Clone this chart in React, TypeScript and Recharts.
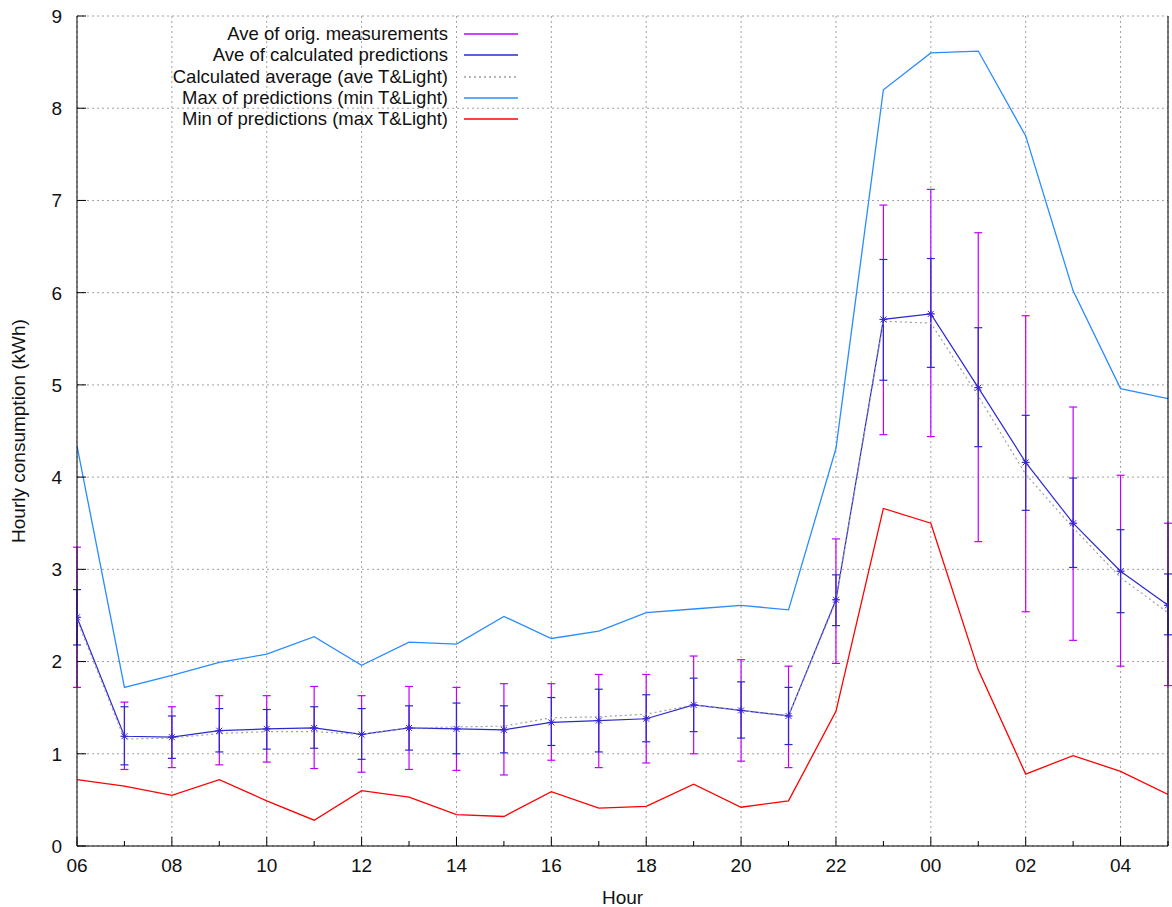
import React from "react";
import {
  ComposedChart,
  Line,
  XAxis,
  YAxis,
  CartesianGrid,
  ErrorBar,
  Legend,
  Label,
} from "recharts";

const FONT = "'Liberation Sans', Arial, sans-serif";

// hour of day, 06 -> 05 next morning
const hours = [
  "06", "07", "08", "09", "10", "11", "12", "13", "14", "15", "16", "17",
  "18", "19", "20", "21", "22", "23", "00", "01", "02", "03", "04", "05",
];

// Ave of orig. measurements (centre + error bar ends)
const origAve = [2.48, 1.19, 1.18, 1.25, 1.27, 1.28, 1.21, 1.28, 1.27, 1.26, 1.34, 1.36, 1.38, 1.53, 1.47, 1.41, 2.67, 5.71, 5.77, 4.97, 4.16, 3.5, 2.98, 2.61];
const origLow = [1.72, 0.83, 0.85, 0.88, 0.91, 0.84, 0.8, 0.83, 0.82, 0.77, 0.93, 0.85, 0.9, 1.0, 0.92, 0.85, 1.98, 4.46, 4.44, 3.3, 2.54, 2.23, 1.95, 1.74];
const origHigh = [3.24, 1.56, 1.51, 1.63, 1.63, 1.73, 1.63, 1.73, 1.72, 1.76, 1.76, 1.86, 1.86, 2.06, 2.02, 1.95, 3.33, 6.95, 7.12, 6.65, 5.75, 4.76, 4.02, 3.5];

// Ave of calculated predictions (centre + error bar ends)
const calcAve = [2.48, 1.19, 1.18, 1.25, 1.27, 1.28, 1.21, 1.28, 1.27, 1.26, 1.34, 1.36, 1.38, 1.53, 1.47, 1.41, 2.67, 5.71, 5.77, 4.97, 4.16, 3.5, 2.98, 2.61];
const calcLow = [2.18, 0.88, 0.95, 1.02, 1.05, 1.06, 0.94, 1.04, 1.0, 1.01, 1.09, 1.02, 1.13, 1.24, 1.17, 1.1, 2.39, 5.05, 5.19, 4.33, 3.64, 3.02, 2.53, 2.29];
const calcHigh = [2.78, 1.51, 1.41, 1.49, 1.48, 1.51, 1.49, 1.52, 1.55, 1.52, 1.61, 1.7, 1.64, 1.82, 1.78, 1.72, 2.94, 6.36, 6.37, 5.62, 4.67, 3.99, 3.43, 2.95];

// Calculated average (ave T&Light)
const calcAvg = [2.45, 1.16, 1.17, 1.22, 1.24, 1.24, 1.21, 1.28, 1.29, 1.3, 1.39, 1.4, 1.43, 1.53, 1.47, 1.41, 2.65, 5.69, 5.67, 4.88, 4.03, 3.45, 2.91, 2.53];

// Max of predictions (min T&Light)
const maxPred = [4.34, 1.72, 1.85, 1.99, 2.08, 2.27, 1.96, 2.21, 2.19, 2.49, 2.25, 2.33, 2.53, 2.57, 2.61, 2.56, 4.31, 8.2, 8.6, 8.62, 7.7, 6.02, 4.96, 4.85];

// Min of predictions (max T&Light)
const minPred = [0.72, 0.65, 0.55, 0.72, 0.49, 0.28, 0.6, 0.53, 0.34, 0.32, 0.59, 0.41, 0.43, 0.67, 0.42, 0.49, 1.46, 3.66, 3.5, 1.91, 0.78, 0.98, 0.81, 0.56];

const yTicks = [0, 1, 2, 3, 4, 5, 6, 7, 8, 9];
const xTicks = hours.map((_, i) => i);
const majorX = xTicks.filter((i) => i % 2 === 0);

const data = hours.map((hour, i) => ({
  i,
  hour,
  orig: origAve[i],
  origErr: [origAve[i] - origLow[i], origHigh[i] - origAve[i]],
  calc: calcAve[i],
  calcErr: [calcAve[i] - calcLow[i], calcHigh[i] - calcAve[i]],
  avg: calcAvg[i],
  max: maxPred[i],
  min: minPred[i],
}));

const PURPLE = "#c000ff";
const BLUE = "#2a2ad0";
const GREY = "#a0a0a0";
const SKY = "#2a8cff";
const RED = "#ff0000";

const legendItems = [
  { label: "Ave of orig. measurements", color: PURPLE, dash: undefined },
  { label: "Ave of calculated predictions", color: BLUE, dash: undefined },
  { label: "Calculated average (ave T&Light)", color: GREY, dash: "2 3" },
  { label: "Max of predictions (min T&Light)", color: SKY, dash: undefined },
  { label: "Min of predictions (max T&Light)", color: RED, dash: undefined },
];

const BottomTick = (props: any) => {
  const { x, y, payload } = props;
  const major = payload.value % 2 === 0;
  const base = y - 13;
  return (
    <g>
      <line x1={x} x2={x} y1={base} y2={base - (major ? 9 : 5)} stroke="#000" />
      {major && (
        <text x={x} y={y} dy="0.71em" textAnchor="middle" fontSize={19} fontFamily={FONT} fill="#111">
          {hours[payload.value]}
        </text>
      )}
    </g>
  );
};

const TopTick = (props: any) => {
  const { x, y, payload } = props;
  const major = payload.value % 2 === 0;
  return <line x1={x} x2={x} y1={y} y2={y + (major ? 9 : 5)} stroke="#000" />;
};

const LeftTick = (props: any) => {
  const { x, y, payload } = props;
  const base = x + 15;
  return (
    <g>
      <line x1={base} x2={base + 9} y1={y} y2={y} stroke="#000" />
      <text x={x} y={y} dy="0.36em" textAnchor="end" fontSize={19} fontFamily={FONT} fill="#111">
        {payload.value}
      </text>
    </g>
  );
};

const RightTick = (props: any) => {
  const { x, y } = props;
  return <line x1={x} x2={x - 9} y1={y} y2={y} stroke="#000" />;
};

const StarDot = (props: any) => {
  const { cx, cy } = props;
  if (cx == null || cy == null) return null;
  const r = 4;
  return (
    <g stroke={BLUE} strokeWidth={1}>
      <line x1={cx - r} x2={cx + r} y1={cy} y2={cy} />
      <line x1={cx} x2={cx} y1={cy - r} y2={cy + r} />
      <line x1={cx - 3} x2={cx + 3} y1={cy - 3} y2={cy + 3} />
      <line x1={cx - 3} x2={cx + 3} y1={cy + 3} y2={cy - 3} />
    </g>
  );
};

const PlusDot = (props: any) => {
  const { cx, cy } = props;
  if (cx == null || cy == null) return null;
  return (
    <g stroke={PURPLE} strokeWidth={1}>
      <line x1={cx - 3} x2={cx + 3} y1={cy} y2={cy} />
      <line x1={cx} x2={cx} y1={cy - 3} y2={cy + 3} />
    </g>
  );
};

const renderLegend = () => (
  <div style={{ fontFamily: FONT, fontSize: 18.5, color: "#111" }}>
    {legendItems.map((item) => (
      <div key={item.label} style={{ display: "flex", alignItems: "center", height: 21.2 }}>
        <span style={{ width: 440, textAlign: "right", whiteSpace: "nowrap" }}>{item.label}</span>
        <svg width={56} height={10} style={{ marginLeft: 16 }}>
          <line x1={0} x2={54} y1={5} y2={5} stroke={item.color} strokeWidth={1.5} strokeDasharray={item.dash} />
        </svg>
      </div>
    ))}
  </div>
);

export default function App() {
  return (
    <div style={{ position: "fixed", left: 0, top: 0, width: 1172, height: 907, background: "#fff" }}>
      <ComposedChart
        width={1172}
        height={907}
        data={data}
        margin={{ top: 16, right: 3, bottom: 0, left: 8 }}
      >
        <CartesianGrid stroke={GREY} strokeDasharray="2 3" xAxisId="grid" />
        <Line
          dataKey="orig"
          stroke="none"
          dot={<PlusDot />}
          activeDot={false}
          isAnimationActive={false}
        >
          <ErrorBar dataKey="origErr" width={4} stroke={PURPLE} strokeWidth={1.2} direction="y" />
        </Line>
        <Line
          dataKey="calc"
          stroke={BLUE}
          strokeWidth={1.2}
          dot={<StarDot />}
          activeDot={false}
          isAnimationActive={false}
        >
          <ErrorBar dataKey="calcErr" width={4} stroke={BLUE} strokeWidth={1.2} direction="y" />
        </Line>
        <Line
          dataKey="avg"
          stroke={GREY}
          strokeWidth={1.2}
          strokeDasharray="2 3"
          dot={false}
          activeDot={false}
          isAnimationActive={false}
        />
        <Line dataKey="max" stroke={SKY} strokeWidth={1.3} dot={false} activeDot={false} isAnimationActive={false} />
        <Line dataKey="min" stroke={RED} strokeWidth={1.3} dot={false} activeDot={false} isAnimationActive={false} />
        <XAxis
          dataKey="i"
          type="number"
          domain={[0, 23]}
          ticks={xTicks}
          interval={0}
          allowDataOverflow
          height={61}
          tickSize={0}
          tickMargin={13}
          tickLine={false}
          axisLine={{ stroke: "#000" }}
          tick={<BottomTick />}
        >
          <Label
            content={({ viewBox }: any) => (
              <text
                x={viewBox.x + viewBox.width / 2}
                y={viewBox.y + 58}
                textAnchor="middle"
                fontSize={19}
                fontFamily={FONT}
                fill="#111"
              >
                Hour
              </text>
            )}
          />
        </XAxis>
        <XAxis
          xAxisId="grid"
          dataKey="i"
          type="number"
          domain={[0, 23]}
          ticks={majorX}
          interval={0}
          hide
        />
        <XAxis
          xAxisId="top"
          dataKey="i"
          orientation="top"
          type="number"
          domain={[0, 23]}
          ticks={xTicks}
          interval={0}
          height={0}
          tickSize={0}
          tickMargin={0}
          tickLine={false}
          axisLine={{ stroke: "#000" }}
          tick={<TopTick />}
        />
        <YAxis
          type="number"
          domain={[0, 9]}
          ticks={yTicks}
          interval={0}
          width={69}
          tickSize={0}
          tickMargin={15}
          tickLine={false}
          axisLine={{ stroke: "#000" }}
          tick={<LeftTick />}
        >
          <Label
            content={({ viewBox }: any) => {
              const cx = viewBox.x + 17;
              const cy = viewBox.y + viewBox.height / 2;
              return (
                <text
                  x={cx}
                  y={cy}
                  transform={`rotate(-90, ${cx}, ${cy})`}
                  textAnchor="middle"
                  fontSize={19}
                  fontFamily={FONT}
                  fill="#111"
                >
                  Hourly consumption (kWh)
                </text>
              );
            }}
          />
        </YAxis>
        <YAxis
          yAxisId="right"
          orientation="right"
          type="number"
          domain={[0, 9]}
          ticks={yTicks}
          interval={0}
          width={1}
          tickSize={0}
          tickMargin={0}
          tickLine={false}
          axisLine={{ stroke: "#000" }}
          tick={<RightTick />}
        />
        <Legend
          layout="vertical"
          align="center"
          verticalAlign="middle"
          content={renderLegend}
          wrapperStyle={{ top: 23.7, left: 8, width: 520 }}
        />
      </ComposedChart>
    </div>
  );
}
